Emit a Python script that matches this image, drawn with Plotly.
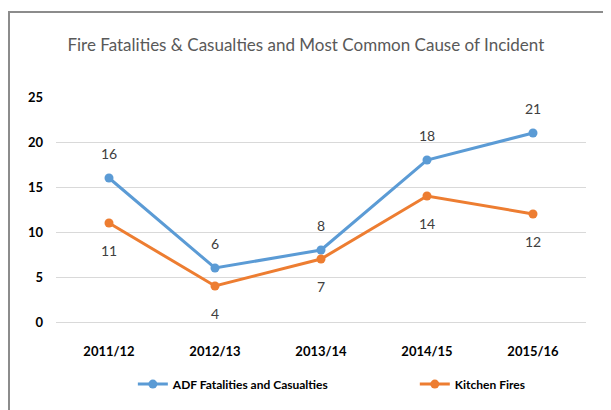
import plotly.graph_objects as go

# Dados do gráfico
years = ["2011/12", "2012/13", "2013/14", "2014/15", "2015/16"]
adf_values = [16, 6, 8, 18, 21]
kitchen_values = [11, 4, 7, 14, 12]

BLUE = "#5B9BD5"
ORANGE = "#ED7D31"
FONT = "Lato, sans-serif"

fig = go.Figure()

fig.add_trace(go.Scatter(
    x=years, y=adf_values,
    mode="lines+markers",
    name="ADF Fatalities and Casualties",
    line=dict(color=BLUE, width=3),
    marker=dict(color=BLUE, size=9),
    legend="legend",
))

fig.add_trace(go.Scatter(
    x=years, y=kitchen_values,
    mode="lines+markers",
    name="Kitchen Fires",
    line=dict(color=ORANGE, width=3),
    marker=dict(color=ORANGE, size=9),
    legend="legend2",
))

# Rótulos de dados
annotations = []
for x, y in zip(years, adf_values):
    annotations.append(dict(x=x, y=y, text=str(y), showarrow=False, yshift=25,
                            font=dict(family=FONT, size=14, color="#404040")))
for x, y in zip(years, kitchen_values):
    annotations.append(dict(x=x, y=y, text=str(y), showarrow=False, yshift=-27,
                            font=dict(family=FONT, size=14, color="#404040")))

legend_font = dict(family=FONT, size=12, color="black", weight="bold")

# a página tem margem de 8px no body, por isso a figura é 8px menor
fig.update_layout(
    width=603, height=402,
    margin=dict(l=48, r=25, t=89, b=88),
    paper_bgcolor="white",
    plot_bgcolor="white",
    font=dict(family=FONT, color="black"),
    title=dict(
        text="Fire Fatalities & Casualties and Most Common Cause of Incident",
        xref="container", x=0.494, xanchor="center",
        yref="container", y=0.908, yanchor="middle",
        font=dict(family=FONT, size=17, color="#595959"),
    ),
    showlegend=True,
    legend=dict(
        orientation="h", x=0.145, xanchor="left", y=-0.276, yanchor="middle",
        font=legend_font, itemwidth=30,
    ),
    legend2=dict(
        orientation="h", x=0.677, xanchor="left", y=-0.276, yanchor="middle",
        font=legend_font, itemwidth=30,
    ),
    annotations=annotations,
    shapes=[dict(
        type="rect", xref="paper", yref="paper",
        x0=-0.0887, x1=1.0396, y0=-0.45, y1=1.378,
        line=dict(color="#8C8C8C", width=2), fillcolor="rgba(0,0,0,0)",
        layer="below",
    )],
)

fig.update_xaxes(
    range=[-0.5, 4.5],
    showgrid=False, showline=False, zeroline=False,
    ticks="", ticklabelstandoff=20,
    tickfont=dict(family=FONT, size=13, color="black", weight="bold"),
)
fig.update_yaxes(
    range=[0, 25], dtick=5,
    showgrid=True, gridcolor="#D9D9D9", gridwidth=1,
    zeroline=True, zerolinecolor="#D9D9D9", zerolinewidth=1,
    showline=False, ticks="", ticklabelstandoff=12,
    tickfont=dict(family=FONT, size=13, color="black", weight="bold"),
)

fig.write_html("out.html")
